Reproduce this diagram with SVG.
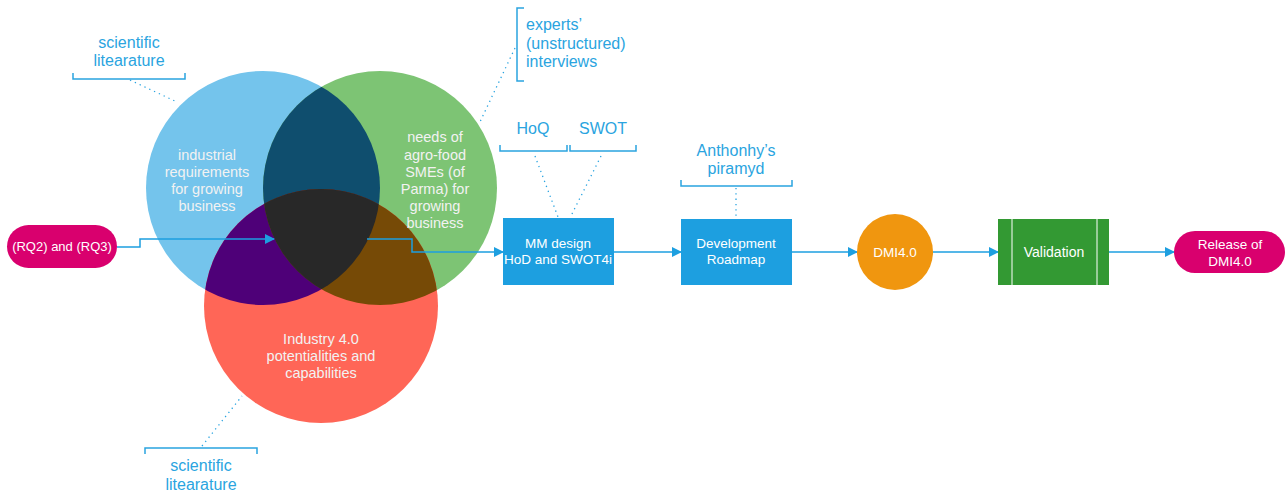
<svg xmlns="http://www.w3.org/2000/svg" width="1286" height="496" viewBox="0 0 1286 496">
<style>
text{font-family:"Liberation Sans",Arial,sans-serif}
.in{fill:#f2f2f2;font-size:14.5px;text-anchor:middle}
.lb{fill:#2aa4e0;font-size:16px;text-anchor:middle}
.bx{fill:#ffffff;font-size:13.5px;text-anchor:middle}
.br{fill:none;stroke:#2aa4e0;stroke-width:1.5}
.dot{fill:none;stroke:#2aa4e0;stroke-width:1.3;stroke-dasharray:1.3 4}
.ar{fill:none;stroke:#1d9fe0;stroke-width:1.5}
</style>
<defs>
<marker id="ah" markerWidth="10" markerHeight="10" refX="9" refY="5" orient="auto" markerUnits="userSpaceOnUse">
<path d="M0,0 L10,5 L0,10 Z" fill="#1d9fe0"/>
</marker>
<clipPath id="cb"><circle cx="263" cy="188" r="117"/></clipPath>
<clipPath id="cg"><circle cx="380" cy="188" r="117"/></clipPath>
</defs>

<g id="venn">
<circle cx="263" cy="188" r="117" fill="#74c4ec"/>
<circle cx="380" cy="188" r="117" fill="#7dc474"/>
<circle cx="321" cy="306" r="117" fill="#ff6657"/>
<circle cx="380" cy="188" r="117" fill="#0f4e6e" clip-path="url(#cb)"/>
<circle cx="321" cy="306" r="117" fill="#4e0078" clip-path="url(#cb)"/>
<circle cx="321" cy="306" r="117" fill="#764a06" clip-path="url(#cg)"/>
<g clip-path="url(#cg)"><circle cx="321" cy="306" r="117" fill="#282828" clip-path="url(#cb)"/></g>
</g>

<g id="txt-blue">
<text class="in" x="207" y="160">industrial</text>
<text class="in" x="207" y="177">requirements</text>
<text class="in" x="207" y="194">for growing</text>
<text class="in" x="207" y="211">business</text>
</g>
<g id="txt-green">
<text class="in" x="435" y="142">needs of</text>
<text class="in" x="435" y="160">agro-food</text>
<text class="in" x="435" y="177">SMEs (of</text>
<text class="in" x="435" y="194">Parma) for</text>
<text class="in" x="435" y="211">growing</text>
<text class="in" x="435" y="228">business</text>
</g>
<g id="txt-red">
<text class="in" x="321" y="344">Industry 4.0</text>
<text class="in" x="321" y="361">potentialities and</text>
<text class="in" x="321" y="378">capabilities</text>
</g>

<g id="lbl-sci-top">
<text class="lb" x="129" y="48">scientific</text>
<text class="lb" x="129" y="66">litearature</text>
<path class="br" d="M73,73 V79 H185 V73"/>
<path class="dot" d="M130,80 L177,102"/>
</g>

<g id="lbl-sci-bottom">
<text class="lb" x="201" y="471">scientific</text>
<text class="lb" x="201" y="490">litearature</text>
<path class="br" d="M145,454 V448 H257 V454"/>
<path class="dot" d="M202,446 L242,396"/>
</g>

<g id="lbl-experts">
<path class="br" d="M524,8 H517 V81 H524"/>
<text class="lb" x="526" y="30" style="text-anchor:start">experts’</text>
<text class="lb" x="526" y="49" style="text-anchor:start">(unstructured)</text>
<text class="lb" x="526" y="67" style="text-anchor:start">interviews</text>
<path class="dot" d="M515,48 L479,124"/>
</g>

<g id="lbl-hoq">
<text class="lb" x="533" y="134">HoQ</text>
<path class="br" d="M500,145 V151 H567 V145"/>
<path class="dot" d="M535,156 L558,217"/>
</g>
<g id="lbl-swot">
<text class="lb" x="603" y="134">SWOT</text>
<path class="br" d="M570,145 V151 H636 V145"/>
<path class="dot" d="M601,156 L571,216"/>
</g>

<g id="lbl-anthony">
<text class="lb" x="736" y="156">Anthonhy’s</text>
<text class="lb" x="736" y="174">piramyd</text>
<path class="br" d="M681,180 V186 H792 V180"/>
<path class="dot" d="M736,188 V218"/>
</g>

<g id="connectors">
<path class="ar" d="M117,247 H140 V239 H274" marker-end="url(#ah)"/>
<path class="ar" d="M367,239 H412 V252 H503" marker-end="url(#ah)"/>
<path class="ar" d="M614,252 H681" marker-end="url(#ah)"/>
<path class="ar" d="M792,252 H857" marker-end="url(#ah)"/>
<path class="ar" d="M933,252 H998" marker-end="url(#ah)"/>
<path class="ar" d="M1109,252 H1174" marker-end="url(#ah)"/>
</g>

<g id="rq">
<rect x="7" y="225" width="110" height="43" rx="21.5" fill="#d9006e"/>
<text class="bx" x="62" y="251" style="font-size:13px">(RQ2) and (RQ3)</text>
</g>

<g id="mm">
<rect x="503" y="218" width="111" height="67" fill="#1d9fe0"/>
<text class="bx" x="558" y="248">MM design</text>
<text class="bx" x="558" y="264">HoD and SWOT4i</text>
</g>

<g id="roadmap">
<rect x="681" y="219" width="111" height="66" fill="#1d9fe0"/>
<text class="bx" x="736" y="248">Development</text>
<text class="bx" x="736" y="264">Roadmap</text>
</g>

<g id="dmi">
<circle cx="895" cy="252" r="38" fill="#f0960f"/>
<text class="bx" x="895" y="257">DMI4.0</text>
</g>

<g id="validation">
<rect x="998" y="219" width="111" height="66" fill="#339933"/>
<path d="M1012,219 V285 M1097,219 V285" stroke="#ffffff" stroke-width="1"/>
<text class="bx" x="1054" y="257" style="font-size:14px">Validation</text>
</g>

<g id="release">
<rect x="1174" y="231" width="111" height="42" rx="21" fill="#d9006e"/>
<text class="bx" x="1230" y="249">Release of</text>
<text class="bx" x="1230" y="266">DMI4.0</text>
</g>
</svg>
